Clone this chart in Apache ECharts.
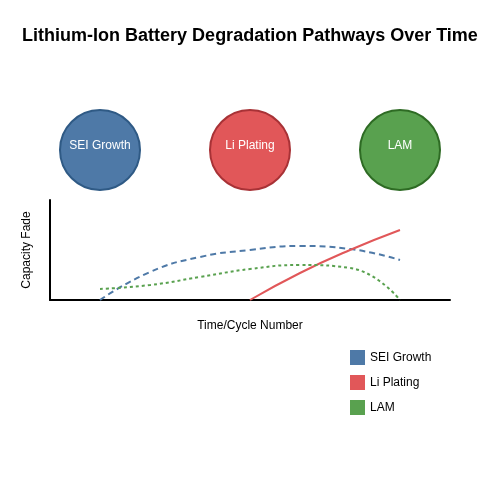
<!DOCTYPE html>
<html>
<head>
<meta charset="utf-8">
<script src="https://cdn.jsdelivr.net/npm/echarts@6/dist/echarts.min.js"></script>
<style>
html,body{margin:0;padding:0;background:#fff;}
#main{width:500px;height:500px;}
</style>
</head>
<body>
<div id="main"></div>
<script>
// data
var xVals = [1, 2, 3, 4, 5, 6, 7];
var seiVals = [0, 28, 43, 50, 54, 51, 40];
var lamVals = [11, 15, 23, 31, 35, 32, 0];
var plateX = [4, 5, 6, 7];
var plateVals = [0, 27, 50, 70];
var pathNames = ['SEI Growth', 'Li Plating', 'LAM'];
var circleX = [1, 4, 7];
var colors = ['#4e79a7', '#e15759', '#59a14f'];
var borders = ['#2f5a85', '#a83236', '#2e6b24'];

function pairs(xs, ys){
	var out = [];
	for (var i = 0; i < xs.length; i++) {
		out.push([xs[i], ys[i]]);
	}
	return out;
}

var circleData = [];
for (var i = 0; i < circleX.length; i++) {
	circleData.push({
		value: [circleX[i], 50],
		name: pathNames[i],
		itemStyle: {color: colors[i], borderColor: borders[i], borderWidth: 2, opacity: 1}
	});
}

var chart = echarts.init(document.getElementById('main'));
var option = {
	backgroundColor: '#fff',
	animation: false,
	title: {
		text: 'Lithium-Ion Battery Degradation Pathways Over Time',
		left: 'center',
		top: 22,
		textStyle: {fontFamily: 'Liberation Sans', fontSize: 18, fontWeight: 'bold', color: '#000'}
	},
	legend: {
		orient: 'vertical',
		left: 345,
		top: 345,
		itemWidth: 15,
		itemHeight: 15,
		itemGap: 10,
		icon: 'rect',
		data: pathNames,
		itemStyle: {borderWidth: 0},
		textStyle: {fontFamily: 'Liberation Sans', fontSize: 12, color: '#000'}
	},
	grid: [
		{left: 50, right: 50, top: 200, height: 100},
		{left: 50, right: 50, top: 100, height: 100}
	],
	xAxis: [
		{
			type: 'value', gridIndex: 0, min: 0, max: 8,
			name: 'Time/Cycle Number', nameLocation: 'middle', nameGap: 20,
			nameTextStyle: {fontFamily: 'Liberation Sans', fontSize: 12, color: '#000'},
			axisLine: {show: true, lineStyle: {color: '#000', width: 2}},
			axisTick: {show: false}, axisLabel: {show: false}, splitLine: {show: false}
		},
		{
			type: 'value', gridIndex: 1, min: 0, max: 8, show: false
		}
	],
	yAxis: [
		{
			type: 'value', gridIndex: 0, min: 0, max: 100,
			name: 'Capacity Fade', nameLocation: 'middle', nameGap: 17,
			nameTextStyle: {fontFamily: 'Liberation Sans', fontSize: 12, color: '#000'},
			axisLine: {show: true, lineStyle: {color: '#000', width: 2}},
			axisTick: {show: false}, axisLabel: {show: false}, splitLine: {show: false}
		},
		{
			type: 'value', gridIndex: 1, min: 0, max: 100, show: false
		}
	],
	series: [
		{
			name: 'SEI Growth', type: 'line', xAxisIndex: 0, yAxisIndex: 0,
			data: pairs(xVals, seiVals), smooth: 0.5, symbol: 'none',
			itemStyle: {color: colors[0]},
			lineStyle: {color: colors[0], width: 2, type: [6, 4]}
		},
		{
			name: 'Li Plating', type: 'line', xAxisIndex: 0, yAxisIndex: 0,
			data: pairs(plateX, plateVals), smooth: 0.5, symbol: 'none',
			itemStyle: {color: colors[1]},
			lineStyle: {color: colors[1], width: 2}
		},
		{
			name: 'LAM', type: 'line', xAxisIndex: 0, yAxisIndex: 0,
			data: pairs(xVals, lamVals), smooth: 0.5, symbol: 'none',
			itemStyle: {color: colors[2]},
			lineStyle: {color: colors[2], width: 2, type: [3, 3]}
		},
		{
			name: 'pathways', type: 'scatter', xAxisIndex: 1, yAxisIndex: 1,
			symbolSize: 80,
			data: circleData,
			label: {
				show: true, position: 'inside', offset: [0, -4],
				formatter: '{b}', color: '#fff',
				fontFamily: 'Liberation Sans', fontSize: 12
			}
		}
	]
};
chart.setOption(option);
</script>
</body>
</html>
